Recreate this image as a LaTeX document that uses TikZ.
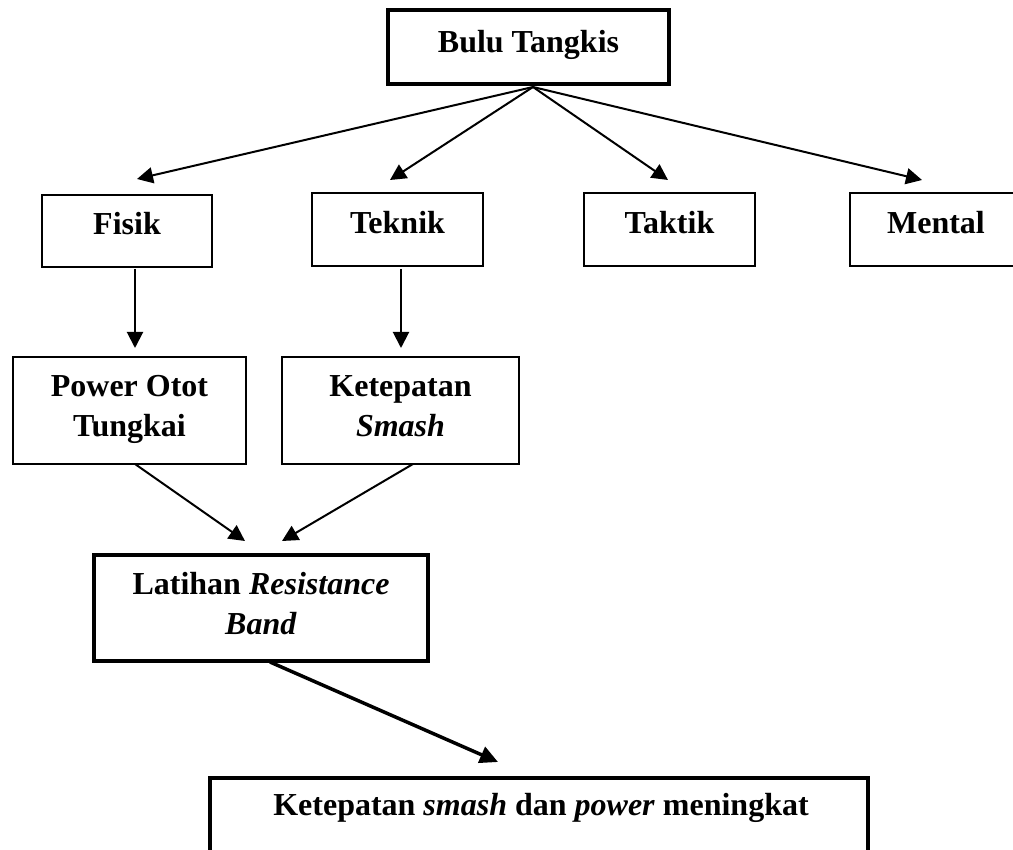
\documentclass[tikz,border=0pt]{standalone}
\usepackage{fontspec}
\setmainfont{Liberation Serif}
\usetikzlibrary{arrows.meta}
\begin{document}
\begin{tikzpicture}[x=1pt,y=-1pt,
  box/.style={draw, line width=1.5pt, inner sep=0pt, font=\fontsize{32}{40}\selectfont\bfseries, align=center},
  thickbox/.style={box, line width=3.5pt},
  single/.style={text height=22pt, text depth=14pt},
  double/.style={text height=62pt, text depth=9pt},
  lbl/.style={inner sep=0pt, font=\fontsize{32}{40}\selectfont\bfseries},
  arr/.style={line width=2pt, -{Triangle[length=16pt,width=16pt]}},
  bigarr/.style={line width=3.5pt, -{Triangle[length=18pt,width=17pt]}}]
\useasboundingbox (0,0) rectangle (1013,850);
\clip (0,0) rectangle (1013,850);

% nodes
\node[thickbox, text height=22pt, text depth=10pt, minimum width=281pt, minimum height=74pt] (bulu) at (528.5,47) {Bulu Tangkis};
\node[box, single, minimum width=170pt, minimum height=72pt] (fisik) at (127,231) {Fisik};
\node[box, single, minimum width=171pt, minimum height=73pt] (teknik) at (397.5,229.5) {Teknik};
\node[box, single, minimum width=171pt, minimum height=73pt] (taktik) at (669.5,229.5) {Taktik};
\node[box, single, minimum width=172pt, minimum height=73pt] (mental) at (936,229.5) {Mental};
\node[box, double, minimum width=233pt, minimum height=107pt] (power) at (129.5,410.5) {Power Otot\\Tungkai};
\node[box, double, minimum width=237pt, minimum height=107pt] (ketepatan) at (400.5,410.5) {Ketepatan\\\textit{Smash}};
\node[thickbox, double, minimum width=334pt, minimum height=106pt] (latihan) at (261,608) {Latihan \textit{Resistance}\\\textit{Band}};
\node[thickbox, minimum width=658pt, minimum height=122pt] (hasil) at (539,839) {};
\node[lbl, anchor=base] (hasiltext) at (541,815) {Ketepatan \textit{smash} dan \textit{power} meningkat};

% connector end points
\coordinate (bt) at (533,87);
\coordinate (tfisik) at (137,179);
\coordinate (tteknik) at (390,180);
\coordinate (ttaktik) at (668,180);
\coordinate (tmental) at (922,180);
\coordinate (fs) at (135,269);
\coordinate (fe) at (135,348);
\coordinate (ks) at (401,269);
\coordinate (ke) at (401,348);
\coordinate (ps) at (135,464);
\coordinate (pe) at (245,541);
\coordinate (kts) at (413,464);
\coordinate (kte) at (282,541);
\coordinate (ls) at (270,662);
\coordinate (le) at (498,762);

% connectors
\draw[arr] (bt) -- (tfisik);
\draw[arr] (bt) -- (tteknik);
\draw[arr] (bt) -- (ttaktik);
\draw[arr] (bt) -- (tmental);
\draw[arr] (fs) -- (fe);
\draw[arr] (ks) -- (ke);
\draw[arr] (ps) -- (pe);
\draw[arr] (kts) -- (kte);
\draw[bigarr] (ls) -- (le);
\end{tikzpicture}
\end{document}
